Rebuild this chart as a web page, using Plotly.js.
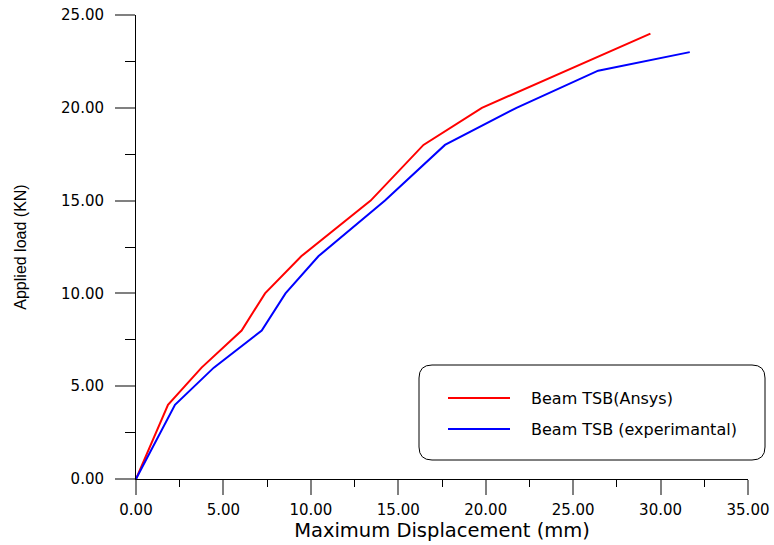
<!DOCTYPE html>
<html>
<head>
<meta charset="utf-8">
<script src="https://cdn.plot.ly/plotly-3.0.1.min.js"></script>
<style>html,body{margin:0;padding:0;background:#fff;}#chart{width:774px;height:545px;}</style>
</head>
<body>
<div id="chart"></div>
<script>
// Data
const ansysName = "Beam TSB(Ansys)";
const ansysDisp = [0, 1.83, 3.75, 6.04, 7.38, 9.45, 13.42, 16.44, 19.78, 29.42];
const ansysLoad = [0, 4, 6, 8, 10, 12, 15, 18, 20, 24];

const expName = "Beam TSB (experimantal)";
const expDisp = [0, 2.23, 4.45, 7.19, 8.55, 10.43, 14.24, 17.67, 21.76, 26.43, 31.67];
const expLoad = [0, 4, 6, 8, 10, 12, 15, 18, 20, 22, 23];

const xTickVals = [0, 5, 10, 15, 20, 25, 30, 35];
const xTickText = ["0.00", "5.00", "10.00", "15.00", "20.00", "25.00", "30.00", "35.00"];
const yTickVals = [0, 5, 10, 15, 20, 25];
const yTickText = ["0.00", "5.00", "10.00", "15.00", "20.00", "25.00"];

const W = 774, H = 545;
const M = {l: 136, r: 26, t: 15, b: 66};
const pw = W - M.l - M.r, ph = H - M.t - M.b;
function px(x) { return (x - M.l) / pw; }
function py(y) { return (H - M.b - y) / ph; }

// rounded legend box (pixel geometry -> paper coords)
function roundRect(x0, y0, x1, y1, r) {
  const rx = r / pw, ry = r / ph;
  const L = px(x0), R = px(x1), T = py(y0), B = py(y1);
  return `M ${L + rx} ${T} L ${R - rx} ${T} Q ${R} ${T} ${R} ${T - ry} L ${R} ${B + ry} Q ${R} ${B} ${R - rx} ${B} L ${L + rx} ${B} Q ${L} ${B} ${L} ${B + ry} L ${L} ${T - ry} Q ${L} ${T} ${L + rx} ${T} Z`;
}

const traces = [
  {x: ansysDisp, y: ansysLoad, name: ansysName, type: "scatter", mode: "lines",
   line: {color: "#ff0000", width: 2}},
  {x: expDisp, y: expLoad, name: expName, type: "scatter", mode: "lines",
   line: {color: "#0000ff", width: 2}}
];

const tickFont = {family: "DejaVu Sans", size: 15, color: "#000"};

const layout = {
  width: W, height: H,
  margin: M,
  paper_bgcolor: "#fff", plot_bgcolor: "#fff",
  showlegend: false,
  xaxis: {
    range: [0, 35], tickvals: xTickVals, ticktext: xTickText,
    showgrid: false, zeroline: false, showline: true, linecolor: "#000", linewidth: 1,
    ticks: "outside", ticklen: 15, tickwidth: 2, tickcolor: "#808080",
    minor: {dtick: 2.5, ticks: "outside", ticklen: 7, tickwidth: 1, tickcolor: "#000", showgrid: false},
    tickfont: tickFont, ticklabelstandoff: 2,
    title: {text: "Maximum Displacement (mm)", font: {family: "DejaVu Sans", size: 19.5, color: "#000"}, standoff: 0},
    automargin: false, fixedrange: true
  },
  yaxis: {
    range: [0, 25], tickvals: yTickVals, ticktext: yTickText,
    showgrid: false, zeroline: false, showline: true, linecolor: "#000", linewidth: 1,
    ticks: "outside", ticklen: 20, tickwidth: 2, tickcolor: "#808080",
    minor: {dtick: 2.5, ticks: "outside", ticklen: 10, tickwidth: 1, tickcolor: "#000", showgrid: false},
    tickfont: tickFont, ticklabelstandoff: 8,
    title: {text: "Applied load (KN)", font: {family: "Liberation Sans", size: 16, color: "#000"}, standoff: 30},
    automargin: false, fixedrange: true
  },
  shapes: [
    {type: "path", xref: "paper", yref: "paper", path: roundRect(419, 365, 765, 460, 13),
     line: {color: "#000", width: 1}, fillcolor: "rgba(0,0,0,0)"},
    {type: "line", xref: "paper", yref: "paper", x0: px(448), x1: px(510), y0: py(398), y1: py(398),
     line: {color: "#ff0000", width: 2}},
    {type: "line", xref: "paper", yref: "paper", x0: px(448), x1: px(510), y0: py(429), y1: py(429),
     line: {color: "#0000ff", width: 2}}
  ],
  annotations: [
    {xref: "paper", yref: "paper", x: px(529), y: py(398), xanchor: "left", yanchor: "middle",
     text: ansysName, showarrow: false, font: {family: "DejaVu Sans", size: 16, color: "#000"}},
    {xref: "paper", yref: "paper", x: px(529), y: py(429), xanchor: "left", yanchor: "middle",
     text: expName, showarrow: false, font: {family: "DejaVu Sans", size: 16, color: "#000"}}
  ]
};

Plotly.newPlot("chart", traces, layout, {displayModeBar: false, staticPlot: true});
</script>
</body>
</html>
